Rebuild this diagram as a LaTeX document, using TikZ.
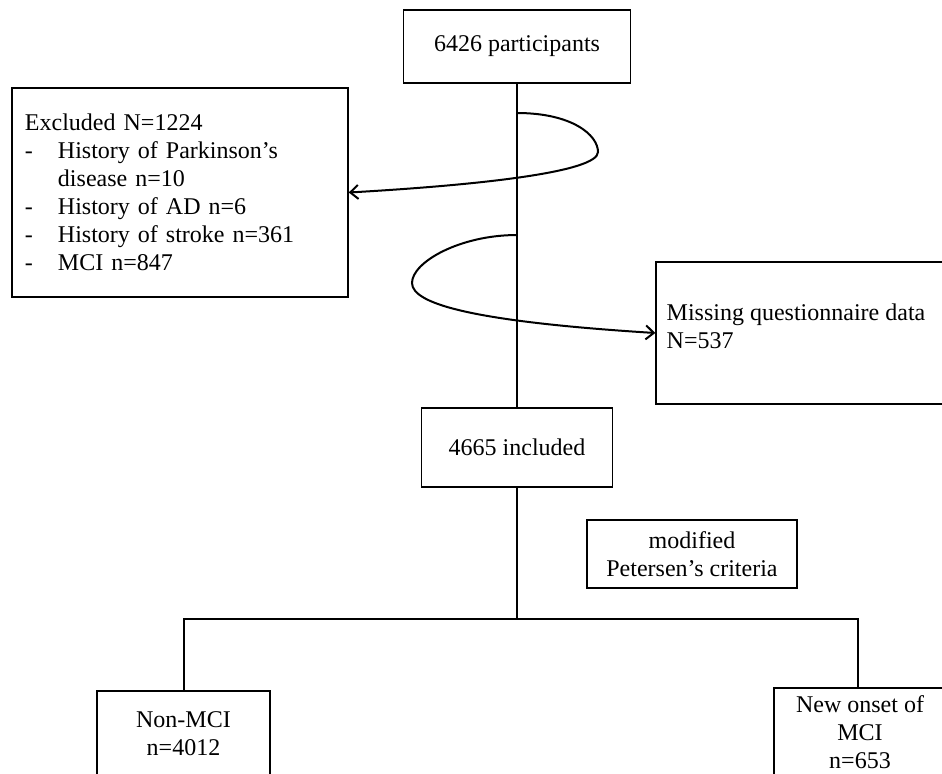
\documentclass[tikz,border=0pt]{standalone}
\usepackage{fontspec}
\setmainfont{Liberation Serif}
\usepackage{tikz}
\usetikzlibrary{arrows.meta, positioning}

\begin{document}
\begin{tikzpicture}[x=0.5pt, y=-0.5pt,
    box/.style={draw, line width=0.7pt, inner sep=0pt, align=center, font=\fontsize{12}{14}\selectfont},
    txt/.style={inner sep=0pt, align=left, font=\fontsize{12}{14}\selectfont},
    flow/.style={line width=1pt},
    loop/.style={line width=1pt, -{Straight Barb[length=4pt, width=7pt]}}]
  \useasboundingbox (0,0) rectangle (942,773);

  \node[box, minimum width=113.5pt, minimum height=36.5pt] (part) at (517,46.5) {6426 participants};
  \node[box, align=left, text width=155pt, inner xsep=6.5pt, minimum height=104.5pt] (excl) at (180,192.5) {Excluded N=1224\\
    \makebox[16.5pt][l]{-}History of Parkinson’s\\
    \hspace*{16.5pt}disease n=10\\
    \makebox[16.5pt][l]{-}History of AD n=6\\
    \makebox[16.5pt][l]{-}History of stroke n=361\\
    \makebox[16.5pt][l]{-}MCI n=847};
  \node[box, minimum width=144.5pt, minimum height=71pt] (miss) at (800.5,333) {};
  \node[txt, below right=21pt and 5.5pt of miss.north west] (misstxt) {Missing questionnaire data\\N=537};
  \node[box, minimum width=95.5pt, minimum height=39.5pt] (incl) at (517,447.5) {4665 included};
  \node[box, minimum width=105pt, minimum height=34pt] (crit) at (692,554) {modified\\Petersen’s criteria};
  \node[box, minimum width=86.5pt, minimum height=43pt] (nonmci) at (183.5,734) {Non-MCI\\n=4012};
  \node[box, minimum width=86pt, minimum height=44pt] (newmci) at (860,732) {New onset of\\MCI\\n=653};

  \coordinate (out1) at (517,113);
  \coordinate (out2) at (517,235);
  \coordinate (split) at (517,619);
  \coordinate (lft) at (183.5,619);
  \coordinate (rgt) at (858,619);

  \draw[flow] (part.south) -- (incl.north);
  \draw[flow] (incl.south) -- (split);
  \draw[flow] (nonmci.north) -- (lft) -- (rgt) -- (rgt |- newmci.north);

  \draw[loop] (out1) .. controls (572,113) and (598,135) .. (598,152) .. controls (598,172) and (480,185) .. (excl.east);
  \draw[loop] (out2) .. controls (460,235) and (412,262) .. (412,283) .. controls (412,305) and (480,322) .. (miss.west);
\end{tikzpicture}
\end{document}
